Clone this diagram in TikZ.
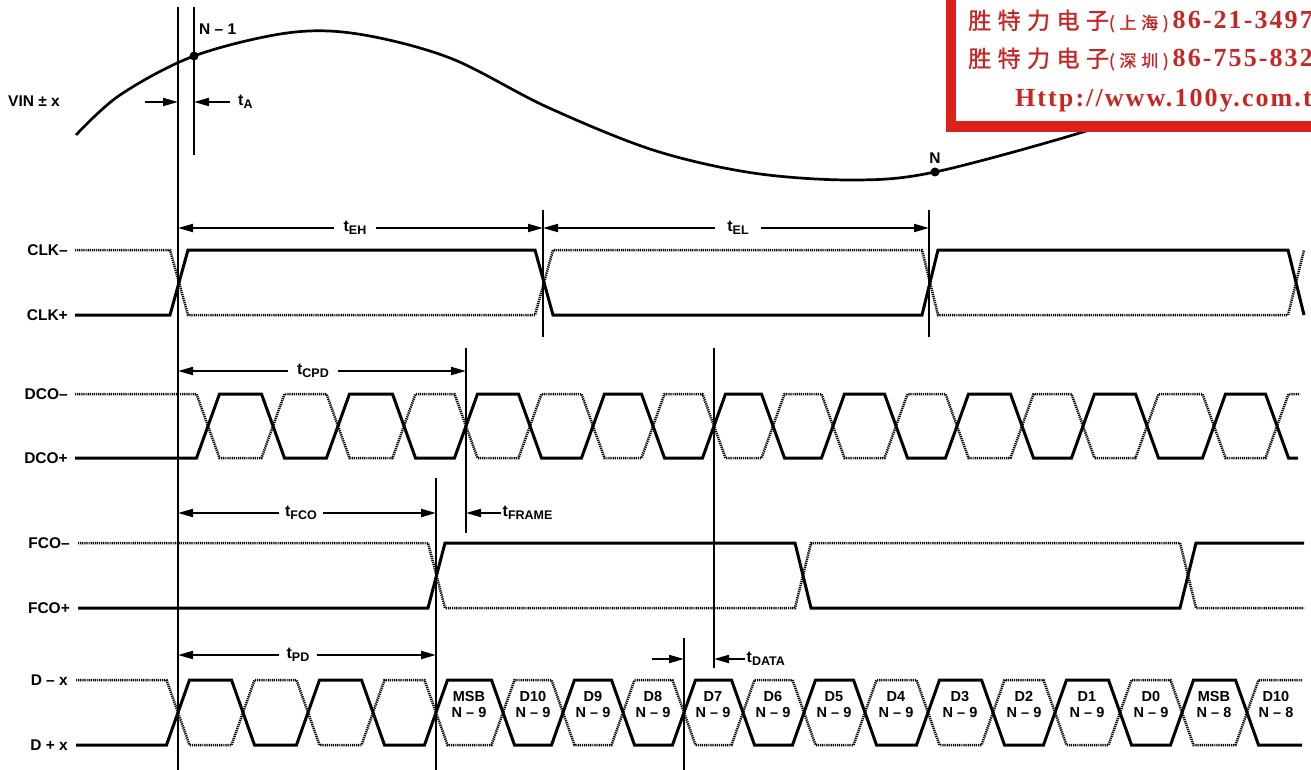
\documentclass[tikz,border=0pt]{standalone}
\usepackage{fontspec}
\setmainfont{Liberation Sans}
\newfontfamily\cjk[LetterSpace=28, FakeBold=1.2]{Noto Sans CJK SC}
\newfontfamily\adserif[LetterSpace=8]{Liberation Serif}
\usetikzlibrary{arrows.meta, positioning}
\definecolor{adred}{RGB}{222,32,26}
\definecolor{adtext}{RGB}{200,38,36}
\newcommand{\tlab}[1]{t\raisebox{-3.5pt}{\fontsize{12.5}{13}\selectfont #1}}

\begin{document}
\begin{tikzpicture}[x=1pt, y=-1pt]
	\tikzstyle{Sig} = [line width=3pt]
	\tikzstyle{Inv} = [line width=2.5pt, dash pattern=on 1.2pt off 0.9pt]
	\tikzstyle{Marker} = [line width=1.3pt]
	\tikzstyle{Label} = [font=\fontsize{15.5}{18}\selectfont\bfseries, inner sep=0pt]
	\tikzstyle{Time} = [font=\fontsize{16}{18}\selectfont\bfseries, inner ysep=0pt, inner xsep=9pt]
	\tikzstyle{Bit} = [font=\fontsize{14.5}{16}\selectfont\bfseries, align=center, inner sep=0pt]
	\tikzstyle{Dot} = [circle, fill=black, inner sep=0pt, minimum size=9pt]
	\tikzstyle{arrow} = [line width=2pt, -{Triangle[length=15pt, width=8pt]}]
	
	\useasboundingbox (0,0) rectangle (1311,770);
	
	% analog input
	\draw[line width=2.7pt] plot[smooth, tension=0.55] coordinates {(76,135) (120,95) (194,56) (287,33) (358,34) (450,58) (547,107) (653,150) (753,173) (853,180) (935,172) (1083,132) (1130,112)};
	\node (sampA) [Dot] at (194,56) {};
	\node (sampB) [Dot] at (935,172) {};
	\node (nm1) [Label, anchor=base west] at (199,35) {N – 1};
	\node (nn) [Label, above=4pt of sampB] {N};
	\node (vin) [Label, anchor=west] at (8,101) {VIN ± x};
	
	% marker lines
	\foreach \mk/\x/\ya/\yb in {A/178/7/770, B/194/7/155, C/543/210/337, D/929/210/337, E/466/348/533, F/714/348/668, G/436/478/770, H/684/638/770}
	{
		\coordinate (\mk top) at (\x,\ya);
		\coordinate (\mk bot) at (\x,\yb);
		\draw[Marker] (\mk top) -- (\mk bot);
	}
	
	% row starts and names
	\coordinate (clkm) at (75,250);
	\coordinate (clkp) at (75,315);
	\coordinate (dcom) at (75,394);
	\coordinate (dcop) at (75,458);
	\coordinate (fcom) at (78,543);
	\coordinate (fcop) at (78,608);
	\coordinate (dm) at (76,680);
	\coordinate (dp) at (76,745);
	\node (clkmL) [Label, left=7pt of clkm] {CLK–};
	\node (clkpL) [Label, left=7pt of clkp] {CLK+};
	\node (dcomL) [Label, left=7pt of dcom] {DCO–};
	\node (dcopL) [Label, left=7pt of dcop] {DCO+};
	\node (fcomL) [Label, left=8pt of fcom] {FCO–};
	\node (fcopL) [Label, left=8pt of fcop] {FCO+};
	\node (dmL) [Label, left=8pt of dm] {D – x};
	\node (dpL) [Label, left=8pt of dp] {D + x};
	
	% CLK
	\draw[Sig] (clkp) -- (170,315) -- (188,250) -- (535,250) -- (553,315) -- (922,315) -- (938,250) -- (1288,250) -- (1304,315);
	\draw[Inv] (clkm) -- (170,250) -- (188,315) -- (535,315) -- (553,250) -- (922,250) -- (938,315) -- (1288,315) -- (1304,250);
	
	% DCO
	\draw[Sig] (dcop) foreach \r/\f in {208/273, 338/404, 466/530, 593/653, 714/773, 833/896, 957/1022, 1083/1147, 1214/1277} { -- (\r-11.5,458) -- (\r+11.5,394) -- (\f-11.5,394) -- (\f+11.5,458) } -- (1298,458);
	\draw[Inv] (dcom) foreach \r/\f in {208/273, 338/404, 466/530, 593/653, 714/773, 833/896, 957/1022, 1083/1147, 1214/1277} { -- (\r-11.5,394) -- (\r+11.5,458) -- (\f-11.5,458) -- (\f+11.5,394) } -- (1300,394);
	
	% FCO
	\draw[Sig] (fcop) -- (428,608) -- (445,543) -- (795,543) -- (811,608) -- (1180,608) -- (1196,543) -- (1304,543);
	\draw[Inv] (fcom) -- (428,543) -- (445,608) -- (795,608) -- (811,543) -- (1180,543) -- (1196,608) -- (1304,608);
	
	% data
	\draw[Sig] (dp) foreach \r/\f in {178/243, 308/373, 436/503, 563/623, 684/743, 804/865, 928/993, 1055/1120, 1182/1247} { -- (\r-11.5,745) -- (\r+11.5,680) -- (\f-11.5,680) -- (\f+11.5,745) } -- (1302,745);
	\draw[Inv] (dm) foreach \r/\f in {178/243, 308/373, 436/503, 563/623, 684/743, 804/865, 928/993, 1055/1120, 1182/1247} { -- (\r-11.5,680) -- (\r+11.5,745) -- (\f-11.5,745) -- (\f+11.5,680) } -- (1302,680);
	\foreach \x/\bt/\nn [count=\i] in {469/MSB/9, 533/D10/9, 593/D9/9, 653/D8/9, 713/D7/9, 773/D6/9, 834/D5/9, 896/D4/9, 960/D3/9, 1024/D2/9, 1087/D1/9, 1151/D0/9, 1214/MSB/8, 1276/D10/8}
		\node (bit\i) [Bit] at (\x,705) {\bt\\N – \nn};
	
	% timing
	\coordinate (tAtail) at (145,102);
	\draw[arrow] (tAtail) -- (tAtail -| Atop);
	\node (tA) [Time, anchor=west, inner xsep=8pt] at (230,102) {\tlab{A}};
	\draw[arrow] (tA.west) -- (tA.west -| Btop);
	
	\node (tEH) [Time] at (355,228) {\tlab{EH}};
	\draw[arrow] (tEH.west) -- (tEH.west -| Atop);
	\draw[arrow] (tEH.east) -- (tEH.east -| Ctop);
	\node (tEL) [Time, inner xsep=12pt] at (738,228) {\tlab{EL}};
	\draw[arrow] (tEL.west) -- (tEL.west -| Ctop);
	\draw[arrow] (tEL.east) -- (tEL.east -| Dtop);
	
	\node (tCPD) [Time] at (313,371) {\tlab{CPD}};
	\draw[arrow] (tCPD.west) -- (tCPD.west -| Atop);
	\draw[arrow] (tCPD.east) -- (tCPD.east -| Etop);
	
	\node (tFCO) [Time, inner xsep=6pt] at (301,513) {\tlab{FCO}};
	\draw[arrow] (tFCO.west) -- (tFCO.west -| Atop);
	\draw[arrow] (tFCO.east) -- (tFCO.east -| Gtop);
	\node (tFRAME) [Time, anchor=west, inner xsep=1.5pt] at (501,513) {\tlab{FRAME}};
	\draw[arrow] (tFRAME.west) -- (tFRAME.west -| Etop);
	
	\node (tPD) [Time, inner xsep=7pt] at (298,655) {\tlab{PD}};
	\draw[arrow] (tPD.west) -- (tPD.west -| Atop);
	\draw[arrow] (tPD.east) -- (tPD.east -| Gtop);
	
	\coordinate (tDtail) at (652,659);
	\draw[arrow] (tDtail) -- (tDtail -| Htop);
	\node (tDATA) [Time, anchor=west, inner xsep=1.5pt] at (745,659) {\tlab{DATA}};
	\draw[arrow] (tDATA.west) -- (tDATA.west -| Ftop);
	
	% stamp
	\begin{scope}
		\clip (0,0) rectangle (1311,770);
		\draw[adred, line width=10.5pt, fill=white] (951,-20) rectangle (1340,126.5);
		\node (ad1) [anchor=base west, inner sep=0pt, text=adtext] at (968,29) {\cjk\fontsize{23}{23}\selectfont 胜特力电子{\fontsize{17}{17}\selectfont(上海)}\hspace{4pt}{\adserif\bfseries\fontsize{26}{26}\selectfont 86-21-3497}};
		\node (ad2) [anchor=base west, inner sep=0pt, text=adtext] at (968,67) {\cjk\fontsize{23}{23}\selectfont 胜特力电子{\fontsize{17}{17}\selectfont(深圳)}\hspace{4pt}{\adserif\bfseries\fontsize{26}{26}\selectfont 86-755-832}};
		\node (ad3) [anchor=base west, inner sep=0pt, text=adtext] at (1015,107) {\adserif\bfseries\fontsize{26}{26}\selectfont Http://www.100y.com.t};
	\end{scope}
\end{tikzpicture}
\end{document}
